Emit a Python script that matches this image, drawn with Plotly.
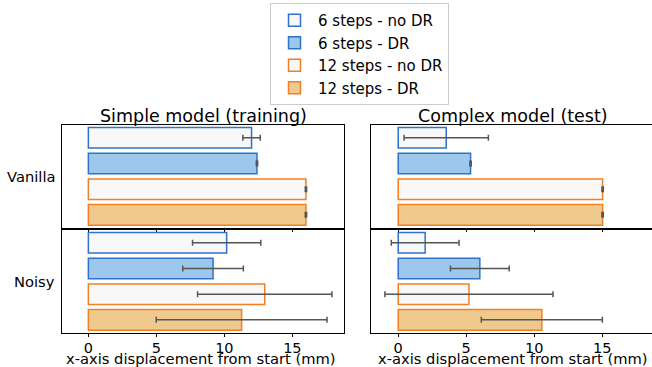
import plotly.graph_objects as go

W, H = 652, 367

series_names = ["6 steps - no DR", "6 steps - DR", "12 steps - no DR", "12 steps - DR"]
row_labels = ["Vanilla", "Noisy"]
panel_titles = ["Simple model (training)", "Complex model (test)"]
x_title = "x-axis displacement from start (mm)"
tick_vals = [0, 5, 10, 15]

# Simple model (training)
simple_vanilla = [12.0, 12.4, 16.0, 16.0]
simple_vanilla_err = [0.64, 0.05, 0.05, 0.05]
simple_noisy = [10.17, 9.17, 12.97, 11.27]
simple_noisy_err = [2.51, 2.23, 4.94, 6.28]
# Complex model (test)
complex_vanilla = [3.53, 5.32, 15.03, 15.03]
complex_vanilla_err = [3.1, 0.05, 0.05, 0.05]
complex_noisy = [1.98, 6.0, 5.2, 10.56]
complex_noisy_err = [2.49, 2.16, 6.18, 4.45]

fills = ["#f8f8f8", "#9dc8ec", "#f8f8f8", "#f0c98e"]
edges = ["#2f72cc", "#2f72cc", "#f28022", "#f28022"]

def px_x(p):
    return p / W

def px_y(p):
    return 1 - p / H

fig = go.Figure()

panels = [
    (simple_vanilla, simple_vanilla_err, "x", "y", True),
    (complex_vanilla, complex_vanilla_err, "x2", "y2", False),
    (simple_noisy, simple_noisy_err, "x3", "y3", False),
    (complex_noisy, complex_noisy_err, "x4", "y4", False),
]

for vals, errs, xa, ya, sl in panels:
    for i, name in enumerate(series_names):
        fig.add_trace(go.Bar(
            x=[vals[i]], y=[i], orientation="h", width=0.8,
            name=name, showlegend=sl, legendrank=i,
            marker=dict(color=fills[i], line=dict(color=edges[i], width=1.5)),
            error_x=dict(type="data", array=[errs[i]], color="#555555",
                         thickness=1.5, width=3),
            xaxis=xa, yaxis=ya,
        ))

left_dom = [px_x(61.7), px_x(344.3)]
right_dom = [px_x(371.3), 1.0]
top_dom = [px_y(227.7), px_y(125)]
bot_dom = [px_y(332.7), px_y(230)]
left_rng = [-1.96, 18.82]
right_rng = [-1.98, 18.66]

FS = 14.7

axis_common = dict(showline=True, mirror=True, linecolor="black", linewidth=1,
                   showgrid=False, zeroline=False, automargin=False)
xcommon = dict(axis_common, tickvals=tick_vals, ticks="outside", ticklen=3.5,
               tickcolor="black", tickfont=dict(size=14.5, color="black"),
               ticklabelstandoff=-2)
ycommon = dict(axis_common, range=[3.5, -0.5], showticklabels=False, ticks="")

fig.update_layout(
    xaxis=dict(xcommon, domain=left_dom, range=left_rng, anchor="y", showticklabels=False),
    yaxis=dict(ycommon, domain=top_dom, anchor="x"),
    xaxis2=dict(xcommon, domain=right_dom, range=right_rng, anchor="y2", showticklabels=False),
    yaxis2=dict(ycommon, domain=top_dom, anchor="x2"),
    xaxis3=dict(xcommon, domain=left_dom, range=left_rng, anchor="y3"),
    yaxis3=dict(ycommon, domain=bot_dom, anchor="x3"),
    xaxis4=dict(xcommon, domain=right_dom, range=right_rng, anchor="y4"),
    yaxis4=dict(ycommon, domain=bot_dom, anchor="x4"),
)

annotations = []
for txt, cx in zip(panel_titles, [203, 512.5]):
    annotations.append(dict(text=txt, x=px_x(cx), y=px_y(116), xref="paper", yref="paper",
                            xanchor="center", yanchor="middle", showarrow=False,
                            font=dict(size=17.5, color="black")))
for cx in [201, 512.8]:
    annotations.append(dict(text=x_title, x=px_x(cx), y=px_y(358.5), xref="paper", yref="paper",
                            xanchor="center", yanchor="middle", showarrow=False,
                            font=dict(size=FS, color="black")))
for txt, cy in zip(row_labels, [176, 281]):
    annotations.append(dict(text=txt, x=px_x(57), y=px_y(cy), xref="paper", yref="paper",
                            xanchor="right", yanchor="middle", showarrow=False,
                            font=dict(size=FS, color="black")))

fig.update_layout(
    width=W, height=H,
    margin=dict(l=0, r=0, t=0, b=0, autoexpand=False),
    paper_bgcolor="white", plot_bgcolor="white",
    font=dict(family="DejaVu Sans", size=FS, color="black"),
    barmode="overlay",
    annotations=annotations,
    legend=dict(x=px_x(270), y=px_y(3), xanchor="left", yanchor="top",
                bordercolor="#cccccc", borderwidth=1, bgcolor="white",
                font=dict(size=15), traceorder="normal", tracegroupgap=0,
                itemwidth=37),
)

fig.write_html("out.html", config={"displayModeBar": False},
               post_script="document.body.style.margin='0';document.body.style.overflow='hidden';")
